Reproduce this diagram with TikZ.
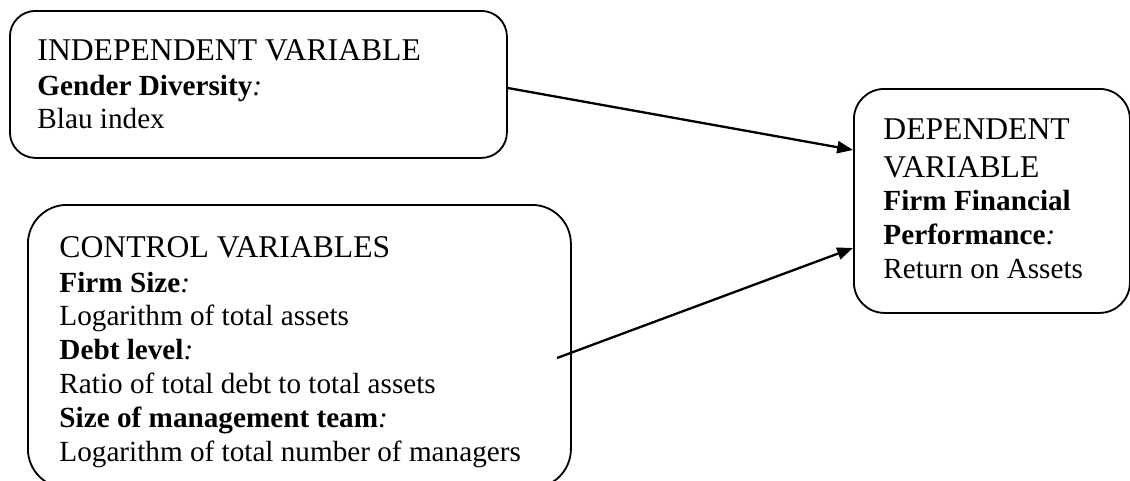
\documentclass[tikz,border=0pt]{standalone}
\usepackage{fontspec}
\setmainfont{Liberation Serif}
\usetikzlibrary{arrows.meta,calc}
\begin{document}
\begin{tikzpicture}[x=0.411pt,y=-0.411pt,
  box/.style={draw,line width=0.75pt,inner sep=0pt,anchor=north west},
  body/.style={anchor=base west,inner sep=0pt,font=\fontsize{12}{14}\selectfont},
  head/.style={anchor=base west,inner sep=0pt,font=\fontsize{13}{15}\selectfont},
  conn/.style={line width=0.95pt,-{Triangle[length=6.5pt,width=5pt]}}]
\useasboundingbox (0,0) rectangle (1130,481);
\clip (0,0) rectangle (1130,481);
% boxes
\node[box,rounded corners=10.5pt,minimum width=497*0.411pt,minimum height=147*0.411pt] (ind) at (9,10) {};
\node[box,rounded corners=16pt,minimum width=543*0.411pt,minimum height=283*0.411pt] (ctl) at (27,204) {};
\node[box,rounded corners=12.5pt,minimum width=276*0.411pt,minimum height=224*0.411pt] (dep) at (853,88) {};
% independent variable texts
\node[head] (i1) at (37,61) {INDEPENDENT VARIABLE};
\node[body] (i2) at (37,95) {\textbf{Gender Diversity}\textit{:}};
\node[body] (i3) at (37,128) {Blau index};
% control variable texts
\node[head] (c1) at (59,257) {CONTROL VARIABLES};
\node[body] (c2) at (59,292) {\textbf{Firm Size}\textit{:}};
\node[body] (c3) at (59,325) {Logarithm of total assets};
\node[body] (c4) at (59,359) {\textbf{Debt level}\textit{:}};
\node[body] (c5) at (59,393) {Ratio of total debt to total assets};
\node[body] (c6) at (59,427) {\textbf{Size of management team}\textit{:}};
\node[body] (c7) at (59,461) {Logarithm of total number of managers};
% dependent variable texts
\node[head] (d1) at (883,139) {DEPENDENT};
\node[head] (d2) at (883,177) {VARIABLE};
\node[body] (d3) at (883,210) {\textbf{Firm Financial}};
\node[body] (d4) at (883,244) {\textbf{Performance}\textit{:}};
\node[body] (d5) at (883,278) {Return on Assets};
% connectors
\coordinate (s1) at (ind.east |- 0,88);
\coordinate (e1) at (dep.west |- 0,150);
\coordinate (s2) at (557,358);
\coordinate (e2) at (dep.west |- 0,248);
\draw[conn] (s1) -- (e1);
\draw[conn] (s2) -- (e2);
\end{tikzpicture}
\end{document}
